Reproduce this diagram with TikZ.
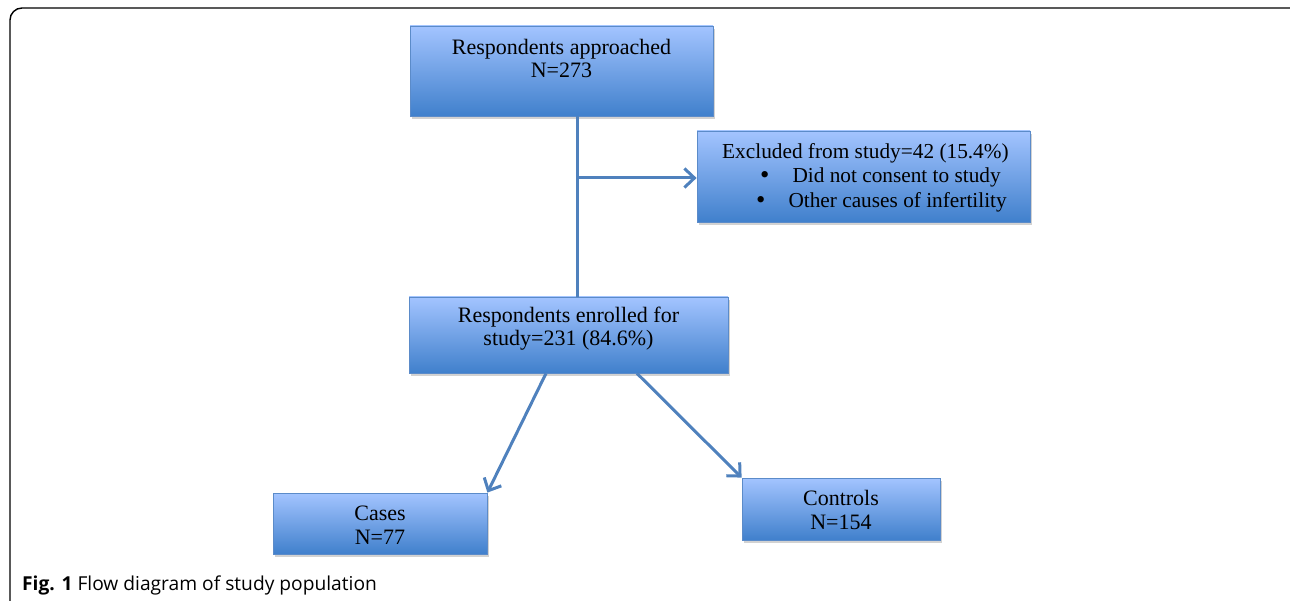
\documentclass[tikz,border=0pt]{standalone}
\usepackage{fontspec}
\setmainfont{Liberation Serif}
\newfontfamily\capfont{Open Sans}
\usetikzlibrary{arrows.meta,shadows}
\definecolor{boxtop}{HTML}{A3C4FF}
\definecolor{boxbot}{HTML}{4080CC}
\definecolor{edgeblue}{HTML}{4F81BD}
\definecolor{boxline}{HTML}{5B8BC9}
\newcommand{\bigbul}{\raisebox{-1.2pt}{\scalebox{1.25}{\textbullet}}}
\begin{document}
\begin{tikzpicture}[x=1pt,y=-1pt,
  fbox/.style={draw=boxline, line width=0.8pt, top color=boxtop, bottom color=boxbot, inner sep=0pt,
    drop shadow={shadow xshift=1.5pt, shadow yshift=-3pt, fill=black!25, opacity=0.7}},
  btext/.style={font=\fontsize{22}{23.5}\selectfont, align=center, inner sep=0pt},
  conn/.style={draw=edgeblue, line width=3pt},
  arr/.style={conn, -{Straight Barb[length=10pt,width=19pt]}}]
\clip (0,0) rectangle (1290,601);
\useasboundingbox (0,0) rectangle (1290,601);
\draw[line width=1.4pt, rounded corners=12pt] (10,640) -- (10,8) -- (1302,8) -- (1302,640);

\node[fbox, minimum width=303pt, minimum height=90pt] (approach) at (561.5,71) {};
\node[fbox, minimum width=333pt, minimum height=91pt] (excl) at (863.5,176.5) {};
\node[fbox, minimum width=319pt, minimum height=76pt] (enr) at (568.5,335) {};
\node[fbox, minimum width=214pt, minimum height=61pt] (cases) at (380,523.5) {};
\node[fbox, minimum width=198pt, minimum height=62pt] (ctrl) at (841,509) {};

\node[btext] (t1) at (561.5,58.5) {Respondents approached\\N=273};
\node[btext, align=left, anchor=west, font=\fontsize{21.3}{24.5}\selectfont] (t2) at (722,177.5) {Excluded from study=42 (15.4\%)\\
  \hspace*{38pt}\bigbul\hspace{23pt}Did not consent to study\\
  \hspace*{34pt}\bigbul\hspace{23pt}Other causes of infertility};
\node[btext] (t3) at (568.5,328.5) {Respondents enrolled for\\study=231 (84.6\%)};
\node[btext] (t4) at (380,525) {Cases\\N=77};
\node[btext] (t5) at (841,510) {Controls\\N=154};

\coordinate (j) at (577,178);
\draw[conn] (approach.south -| j) -- (enr.north -| j);
\draw[arr] (j) -- (j -| excl.west);
\draw[arr] ([xshift=-22.5pt]enr.south) -- (cases.north east);
\draw[arr] ([xshift=68.5pt]enr.south) -- (ctrl.north west);

\node[anchor=base west, inner sep=0pt, font=\capfont\fontsize{19.2}{21}\selectfont] (cap) at (22,590)
  {\textbf{Fig. 1} Flow diagram of study population};
\end{tikzpicture}
\end{document}
